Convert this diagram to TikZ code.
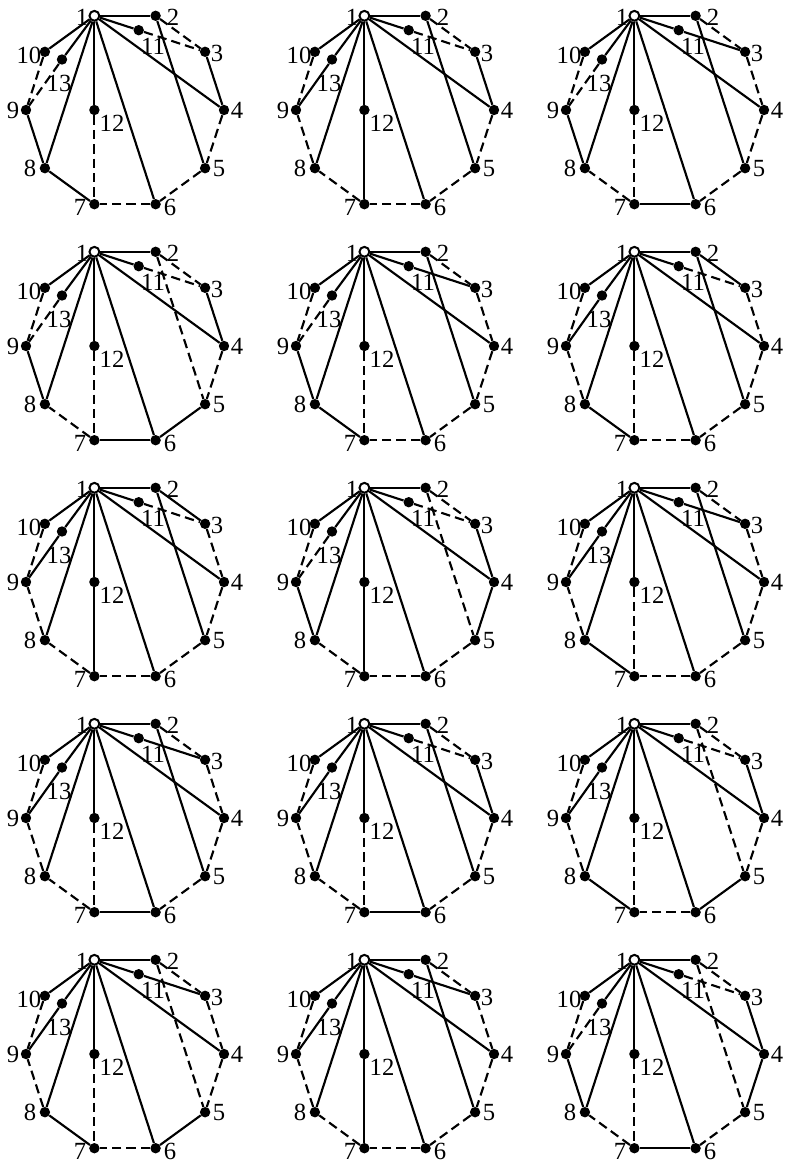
\documentclass[tikz,border=0pt]{standalone}
\usepackage{fontspec}
\setmainfont{Liberation Serif}
\pgfdeclarelayer{bg}
\pgfsetlayers{bg,main}
\tikzset{
  dot/.style={circle,fill=black,inner sep=0pt,minimum size=7.8pt},
  open/.style={circle,draw=black,fill=white,line width=1.5pt,inner sep=0pt,minimum size=7.4pt},
  lab/.style={inner sep=0pt,font=\fontsize{18.5}{18.5}\selectfont},
  sl/.style={line width=1.6pt},
  dl/.style={line width=1.6pt,dash pattern=on 7pt off 3.8pt},
}
\newcommand\gpanel[4]{%
\begin{scope}[shift={(#2,#3)}]
  \node[open] (#1-1) at (94.4,15.8) {};
  \node[dot] (#1-2) at (155.6,15.8) {};
  \node[dot] (#1-3) at (205.1,51.8) {};
  \node[dot] (#1-4) at (224,110) {};
  \node[dot] (#1-5) at (205.1,168.2) {};
  \node[dot] (#1-6) at (155.6,204.2) {};
  \node[dot] (#1-7) at (94.4,204.2) {};
  \node[dot] (#1-8) at (44.9,168.2) {};
  \node[dot] (#1-9) at (26,110) {};
  \node[dot] (#1-10) at (44.9,51.8) {};
  \node[dot] (#1-11) at (138.7,30.2) {};
  \node[dot] (#1-12) at (94.4,110) {};
  \node[dot] (#1-13) at (62,59.5) {};
  \node[lab] (#1-l1) at (82,17) {1};
  \node[lab] (#1-l2) at (173,17) {2};
  \node[lab] (#1-l3) at (217,53) {3};
  \node[lab] (#1-l4) at (237,110) {4};
  \node[lab] (#1-l5) at (219,169) {5};
  \node[lab] (#1-l6) at (170,207) {6};
  \node[lab] (#1-l7) at (80,207) {7};
  \node[lab] (#1-l8) at (30,168) {8};
  \node[lab] (#1-l9) at (13,110) {9};
  \node[lab] (#1-l10) at (29,55) {10};
  \node[lab] (#1-l11) at (153,46) {11};
  \node[lab] (#1-l12) at (112,123) {12};
  \node[lab] (#1-l13) at (59,83) {13};
  \begin{pgfonlayer}{bg}
    \foreach \a/\b in {1/2,1/10,1/11,1/13,1/12,1/8,1/6,1/4}
      \draw[sl] (#1-\a) -- (#1-\b);
    \foreach \a/\b/\s in {#4}
      \draw[\s] (#1-\a) -- (#1-\b);
  \end{pgfonlayer}
\end{scope}}
\begin{document}
\begin{tikzpicture}[x=0.75pt,y=-0.75pt]
\useasboundingbox (0,0) rectangle (793,1163);
% order: 2-3, 11-3, 2-5, 3-4, 4-5, 5-6, 6-7, 12-7, 7-8, 8-9, 10-9, 13-9
\gpanel{p11}{0}{0}{2/3/dl,11/3/dl,2/5/sl,3/4/sl,4/5/dl,5/6/dl,6/7/dl,12/7/dl,7/8/sl,8/9/sl,10/9/dl,13/9/dl}
\gpanel{p12}{270}{0}{2/3/dl,11/3/dl,2/5/sl,3/4/sl,4/5/dl,5/6/dl,6/7/dl,12/7/sl,7/8/dl,8/9/dl,10/9/dl,13/9/sl}
\gpanel{p13}{540}{0}{2/3/dl,11/3/sl,2/5/sl,3/4/dl,4/5/dl,5/6/dl,6/7/sl,12/7/dl,7/8/dl,8/9/sl,10/9/dl,13/9/dl}
\gpanel{p21}{0}{236}{2/3/dl,11/3/dl,2/5/dl,3/4/sl,4/5/dl,5/6/sl,6/7/sl,12/7/dl,7/8/dl,8/9/sl,10/9/dl,13/9/dl}
\gpanel{p22}{270}{236}{2/3/dl,11/3/sl,2/5/sl,3/4/dl,4/5/dl,5/6/dl,6/7/dl,12/7/dl,7/8/sl,8/9/sl,10/9/dl,13/9/dl}
\gpanel{p23}{540}{236}{2/3/sl,11/3/dl,2/5/sl,3/4/dl,4/5/dl,5/6/dl,6/7/dl,12/7/dl,7/8/sl,8/9/dl,10/9/dl,13/9/sl}
\gpanel{p31}{0}{472}{2/3/sl,11/3/dl,2/5/sl,3/4/dl,4/5/dl,5/6/dl,6/7/dl,12/7/sl,7/8/dl,8/9/dl,10/9/dl,13/9/sl}
\gpanel{p32}{270}{472}{2/3/dl,11/3/dl,2/5/dl,3/4/sl,4/5/sl,5/6/dl,6/7/dl,12/7/sl,7/8/dl,8/9/sl,10/9/dl,13/9/dl}
\gpanel{p33}{540}{472}{2/3/dl,11/3/sl,2/5/sl,3/4/dl,4/5/dl,5/6/dl,6/7/dl,12/7/dl,7/8/sl,8/9/dl,10/9/dl,13/9/sl}
\gpanel{p41}{0}{708}{2/3/dl,11/3/sl,2/5/sl,3/4/dl,4/5/dl,5/6/dl,6/7/sl,12/7/dl,7/8/dl,8/9/dl,10/9/dl,13/9/sl}
\gpanel{p42}{270}{708}{2/3/dl,11/3/dl,2/5/sl,3/4/sl,4/5/dl,5/6/dl,6/7/sl,12/7/dl,7/8/dl,8/9/dl,10/9/dl,13/9/sl}
\gpanel{p43}{540}{708}{2/3/dl,11/3/dl,2/5/dl,3/4/sl,4/5/dl,5/6/sl,6/7/dl,12/7/dl,7/8/sl,8/9/dl,10/9/dl,13/9/sl}
\gpanel{p51}{0}{944}{2/3/dl,11/3/sl,2/5/dl,3/4/dl,4/5/dl,5/6/sl,6/7/dl,12/7/dl,7/8/sl,8/9/dl,10/9/dl,13/9/sl}
\gpanel{p52}{270}{944}{2/3/dl,11/3/sl,2/5/sl,3/4/dl,4/5/dl,5/6/dl,6/7/dl,12/7/sl,7/8/dl,8/9/dl,10/9/dl,13/9/sl}
\gpanel{p53}{540}{944}{2/3/dl,11/3/dl,2/5/dl,3/4/sl,4/5/sl,5/6/dl,6/7/sl,12/7/dl,7/8/dl,8/9/sl,10/9/dl,13/9/dl}
\end{tikzpicture}
\end{document}
